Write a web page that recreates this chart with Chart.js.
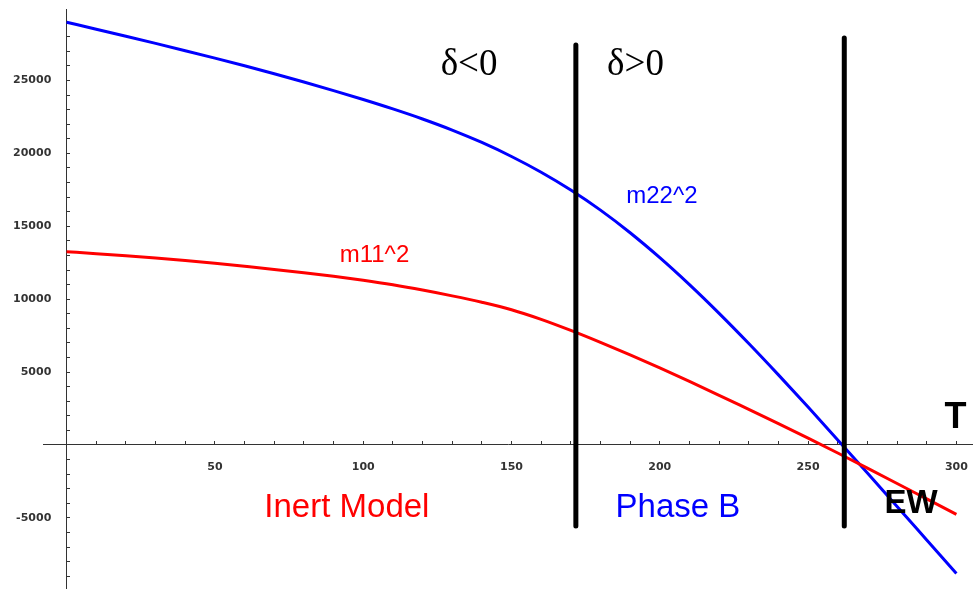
<!DOCTYPE html>
<html>
<head>
<meta charset="utf-8">
<script src="https://cdn.jsdelivr.net/npm/chart.js@4.4.1/dist/chart.umd.min.js"></script>
<style>
  html, body { margin: 0; padding: 0; background: #fff; }
  #wrap { width: 973px; height: 589px; }
</style>
</head>
<body>
<div id="wrap"><canvas id="chart" width="973" height="589"></canvas></div>
<script>
// temperature T, step 10
const temps = [0, 10, 20, 30, 40, 50, 60, 70, 80, 90, 100, 110, 120, 130, 140, 150,
               160, 170, 180, 190, 200, 210, 220, 230, 240, 250, 260, 270, 280, 290, 300];
// m22^2 (blue)
const m22Sq = [29000, 28520, 28035, 27545, 27045, 26535, 26010, 25465, 24900, 24310, 23695,
               23050, 22360, 21600, 20750, 19790, 18710, 17490, 16110, 14560, 12850, 11000,
               9030, 6960, 4810, 2600, 350, -1925, -4215, -6515, -8815];
// m11^2 (red)
const m11Sq = [13260, 13120, 12975, 12820, 12650, 12460, 12255, 12045, 11820, 11575, 11300,
               10990, 10630, 10230, 9790, 9280, 8620, 7860, 7040, 6180, 5290, 4360,
               3410, 2440, 1470, 470, -550, -1590, -2640, -3700, -4760];
// the two vertical phase boundaries
const edgeT = [171.7, 262.2];
const edgeTop = [27440, 27920];
const edgeBottom = [-5555, -5555];

const xTickLabels = [50, 100, 150, 200, 250, 300];
const yTickLabels = [-5000, 5000, 10000, 15000, 20000, 25000];

function toPoints(xs, ys) {
    return xs.map(function (x, i) { return {x: x, y: ys[i]}; });
}

// minor ticks every 10 on T, every 1000 on the value axis
let xTicks = [];
for (let t = 0; t <= 300; t += 10) xTicks.push({value: t});
let yTicks = [];
for (let v = -9000; v <= 29000; v += 1000) yTicks.push({value: v});

const notes = [
    {text: 'δ<0', t: 135.7, v: 25378, color: '#000', font: '37px "Liberation Serif"'},
    {text: 'δ>0', t: 191.8, v: 25378, color: '#000', font: '37px "Liberation Serif"'},
    {text: 'm22^2', t: 200.7, v: 16599, color: '#0000ff', font: '24px "Liberation Sans"'},
    {text: 'm11^2', t: 103.8, v: 12572, color: '#ff0000', font: '24px "Liberation Sans"'},
    {text: 'Inert Model', t: 94.5, v: -4938, color: '#ff0000', font: '33px "Liberation Sans"'},
    {text: 'Phase B', t: 206.1, v: -4938, color: '#0000ff', font: '33px "Liberation Sans"'},
    {text: 'EW', t: 284.7, v: -4664, color: '#000', font: 'bold 33px "Liberation Sans"'},
    {text: 'T', t: 299.7, v: 1166, color: '#000', font: 'bold 36px "Liberation Sans"'}
];

const notesPlugin = {
    id: 'notes',
    afterDatasetsDraw: function (chart) {
        const ctx = chart.ctx;
        const x = chart.scales.x, y = chart.scales.y;
        ctx.save();
        ctx.textAlign = 'center';
        ctx.textBaseline = 'alphabetic';
        notes.forEach(function (n) {
            ctx.font = n.font;
            ctx.fillStyle = n.color;
            ctx.fillText(n.text, x.getPixelForValue(n.t), y.getPixelForValue(n.v));
        });
        ctx.restore();
    }
};

const tickFont = {family: 'DejaVu Sans', size: 11, weight: 'bold'};

// axes sit at 0 inside the plot, so their label overhang must not shrink the area
function noPadding(s) {
    s.paddingTop = 0; s.paddingBottom = 0; s.paddingLeft = 0; s.paddingRight = 0;
}

let datasets = [
    {data: toPoints(temps, m22Sq), borderColor: '#0000ff', borderWidth: 3, order: 2},
    {data: toPoints(temps, m11Sq), borderColor: '#ff0000', borderWidth: 3, order: 1}
];
edgeT.forEach(function (t, i) {
    datasets.push({
        data: [{x: t, y: edgeTop[i]}, {x: t, y: edgeBottom[i]}],
        borderColor: '#000', borderWidth: 5, borderCapStyle: 'round', order: 0
    });
});

new Chart(document.getElementById('chart'), {
    type: 'scatter',
    data: {datasets: datasets},
    options: {
        responsive: false,
        animation: false,
        devicePixelRatio: 1,
        layout: {padding: {top: 9, left: 43, right: 0, bottom: 0}},
        datasets: {
            scatter: {showLine: true, pointRadius: 0, cubicInterpolationMode: 'monotone', fill: false}
        },
        plugins: {legend: {display: false}, tooltip: {enabled: false}},
        scales: {
            x: {
                type: 'linear', min: -7.96, max: 305.6,
                position: {y: 0},
                grid: {drawOnChartArea: false, tickLength: -4, color: '#333'},
                border: {color: '#333', width: 1},
                afterBuildTicks: function (s) { s.ticks = xTicks.slice(); },
                afterFit: noPadding,
                ticks: {
                    autoSkip: false, maxRotation: 0, padding: 20, color: '#333', font: tickFont,
                    callback: function (v) { return xTickLabels.indexOf(v) >= 0 ? String(v) : ''; }
                }
            },
            y: {
                type: 'linear', min: -9877, max: 29905,
                position: {x: 0},
                grid: {drawOnChartArea: false, tickLength: -4, color: '#333'},
                border: {color: '#333', width: 1},
                afterBuildTicks: function (s) { s.ticks = yTicks.slice(); },
                afterFit: noPadding,
                ticks: {
                    autoSkip: false, padding: 14, color: '#333', font: tickFont,
                    // trailing spaces keep the labels off the axis line
                    callback: function (v) { return yTickLabels.indexOf(v) >= 0 ? v + '    ' : ''; }
                }
            }
        }
    },
    plugins: [notesPlugin]
});
</script>
</body>
</html>
